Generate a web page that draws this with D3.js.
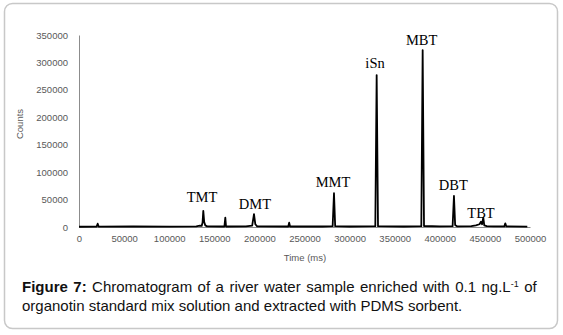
<!DOCTYPE html>
<html>
<head>
<meta charset="utf-8">
<script src="https://cdn.jsdelivr.net/npm/d3@7"></script>
<style>
html,body{margin:0;padding:0;background:#fff;}
svg{display:block;}
</style>
</head>
<body>
<svg id="chart" width="563" height="335"></svg>
<script>
// ---- data ----
const times = [0, 19500, 20700, 21800, 60000, 100000, 130000, 134000, 136000, 137000, 137800, 138800, 140000, 142000,
  161200, 162200, 163000, 185000, 192000, 194000, 195500, 197500, 232000, 233000, 234000, 270000,
  281200, 282700, 284000, 300000, 328500, 330000, 331500, 360000, 379500, 381000, 382500, 400000,
  414200, 415700, 417000, 419000, 435000, 440000, 444000, 445600, 446800, 448200, 449300, 452000,
  460000, 471500, 472600, 473800, 497000];
const counts = [500, 800, 6000, 800, 900, 700, 1200, 2500, 2000, 8000, 29500, 9000, 3000, 1200,
  900, 17000, 900, 1000, 2500, 23500, 5000, 1200, 900, 7800, 900, 900,
  1500, 61500, 1500, 900, 1500, 277000, 1500, 900, 1500, 322500, 1800, 1000,
  1500, 56500, 3500, 1200, 1500, 3000, 5000, 9600, 5000, 17000, 3000, 1500,
  1200, 1000, 6700, 1000, 800];
const peakNames = ["TMT", "DMT", "MMT", "iSn", "MBT", "DBT", "TBT"];
const peakLabelTimes = [136400, 195100, 281600, 328200, 379900, 415000, 445700];
const peakLabelCounts = [45600, 32800, 72900, 289800, 331800, 67400, 16400];
const xTicks = [0, 50000, 100000, 150000, 200000, 250000, 300000, 350000, 400000, 450000, 500000];
const yTicks = [0, 50000, 100000, 150000, 200000, 250000, 300000, 350000];

// ---- drawing ----
const svg = d3.select("#chart");
svg.append("rect").attr("x", 4.5).attr("y", 3.5).attr("width", 553).attr("height", 325)
  .attr("rx", 8).attr("fill", "#fff").attr("stroke", "#c8c8c8").attr("stroke-width", 1.5);

const x = d3.scaleLinear().domain([0, 500000]).range([79, 530]);
const y = d3.scaleLinear().domain([0, 350000]).range([227, 35]);

const tickFont = "Liberation Sans, Arial, sans-serif";
const gray = "#595959";

const yAxis = svg.append("g").attr("transform", "translate(79,0)")
  .call(d3.axisLeft(y).tickValues(yTicks).tickSize(0).tickPadding(11).tickFormat(d3.format("d")));
yAxis.select(".domain").attr("stroke", "#8c8c8c").attr("stroke-width", 1);
yAxis.selectAll("text").attr("fill", gray).style("font-family", tickFont).style("font-size", "9.5px");

const xAxis = svg.append("g").attr("transform", "translate(0,227)")
  .call(d3.axisBottom(x).tickValues(xTicks).tickSize(0).tickPadding(8).tickFormat(d3.format("d")));
xAxis.select(".domain").attr("stroke", "#8c8c8c").attr("stroke-width", 1);
xAxis.selectAll("text").attr("fill", gray).style("font-family", tickFont).style("font-size", "9.5px");

svg.append("text").attr("transform", "translate(23,124) rotate(-90)").attr("text-anchor", "middle")
  .attr("fill", gray).style("font-family", tickFont).style("font-size", "9.5px").text("Counts");
svg.append("text").attr("x", 305).attr("y", 261).attr("text-anchor", "middle")
  .attr("fill", gray).style("font-family", tickFont).style("font-size", "9.5px").text("Time (ms)");

const pts = times.map((t, i) => [t, counts[i]]);
svg.append("path").datum(pts)
  .attr("d", d3.line().x(d => x(d[0])).y(d => y(d[1])))
  .attr("fill", "none").attr("stroke", "#000").attr("stroke-width", 1.8).attr("stroke-linejoin", "round");

svg.selectAll("text.peak").data(peakNames).join("text").attr("class", "peak")
  .attr("x", (d, i) => x(peakLabelTimes[i])).attr("y", (d, i) => y(peakLabelCounts[i]))
  .attr("text-anchor", "middle").attr("fill", "#000")
  .style("font-family", "Liberation Serif, Times New Roman, serif").style("font-size", "14.5px")
  .text(d => d);

// caption
const cap = svg.append("g").style("font-family", "Liberation Sans, Arial, sans-serif").style("font-size", "15px").attr("fill", "#111");
const l1 = cap.append("text").attr("x", 22).attr("y", 292).style("word-spacing", "1.3px");
l1.append("tspan").style("font-weight", "bold").text("Figure 7:");
l1.append("tspan").text(" Chromatogram of a river water sample enriched with 0.1 ng.L");
l1.append("tspan").attr("dy", -5).style("font-size", "9px").text("-1");
l1.append("tspan").attr("dy", 5).text(" of");
cap.append("text").attr("x", 22).attr("y", 311).text("organotin standard mix solution and extracted with PDMS sorbent.");
</script>
</body>
</html>
